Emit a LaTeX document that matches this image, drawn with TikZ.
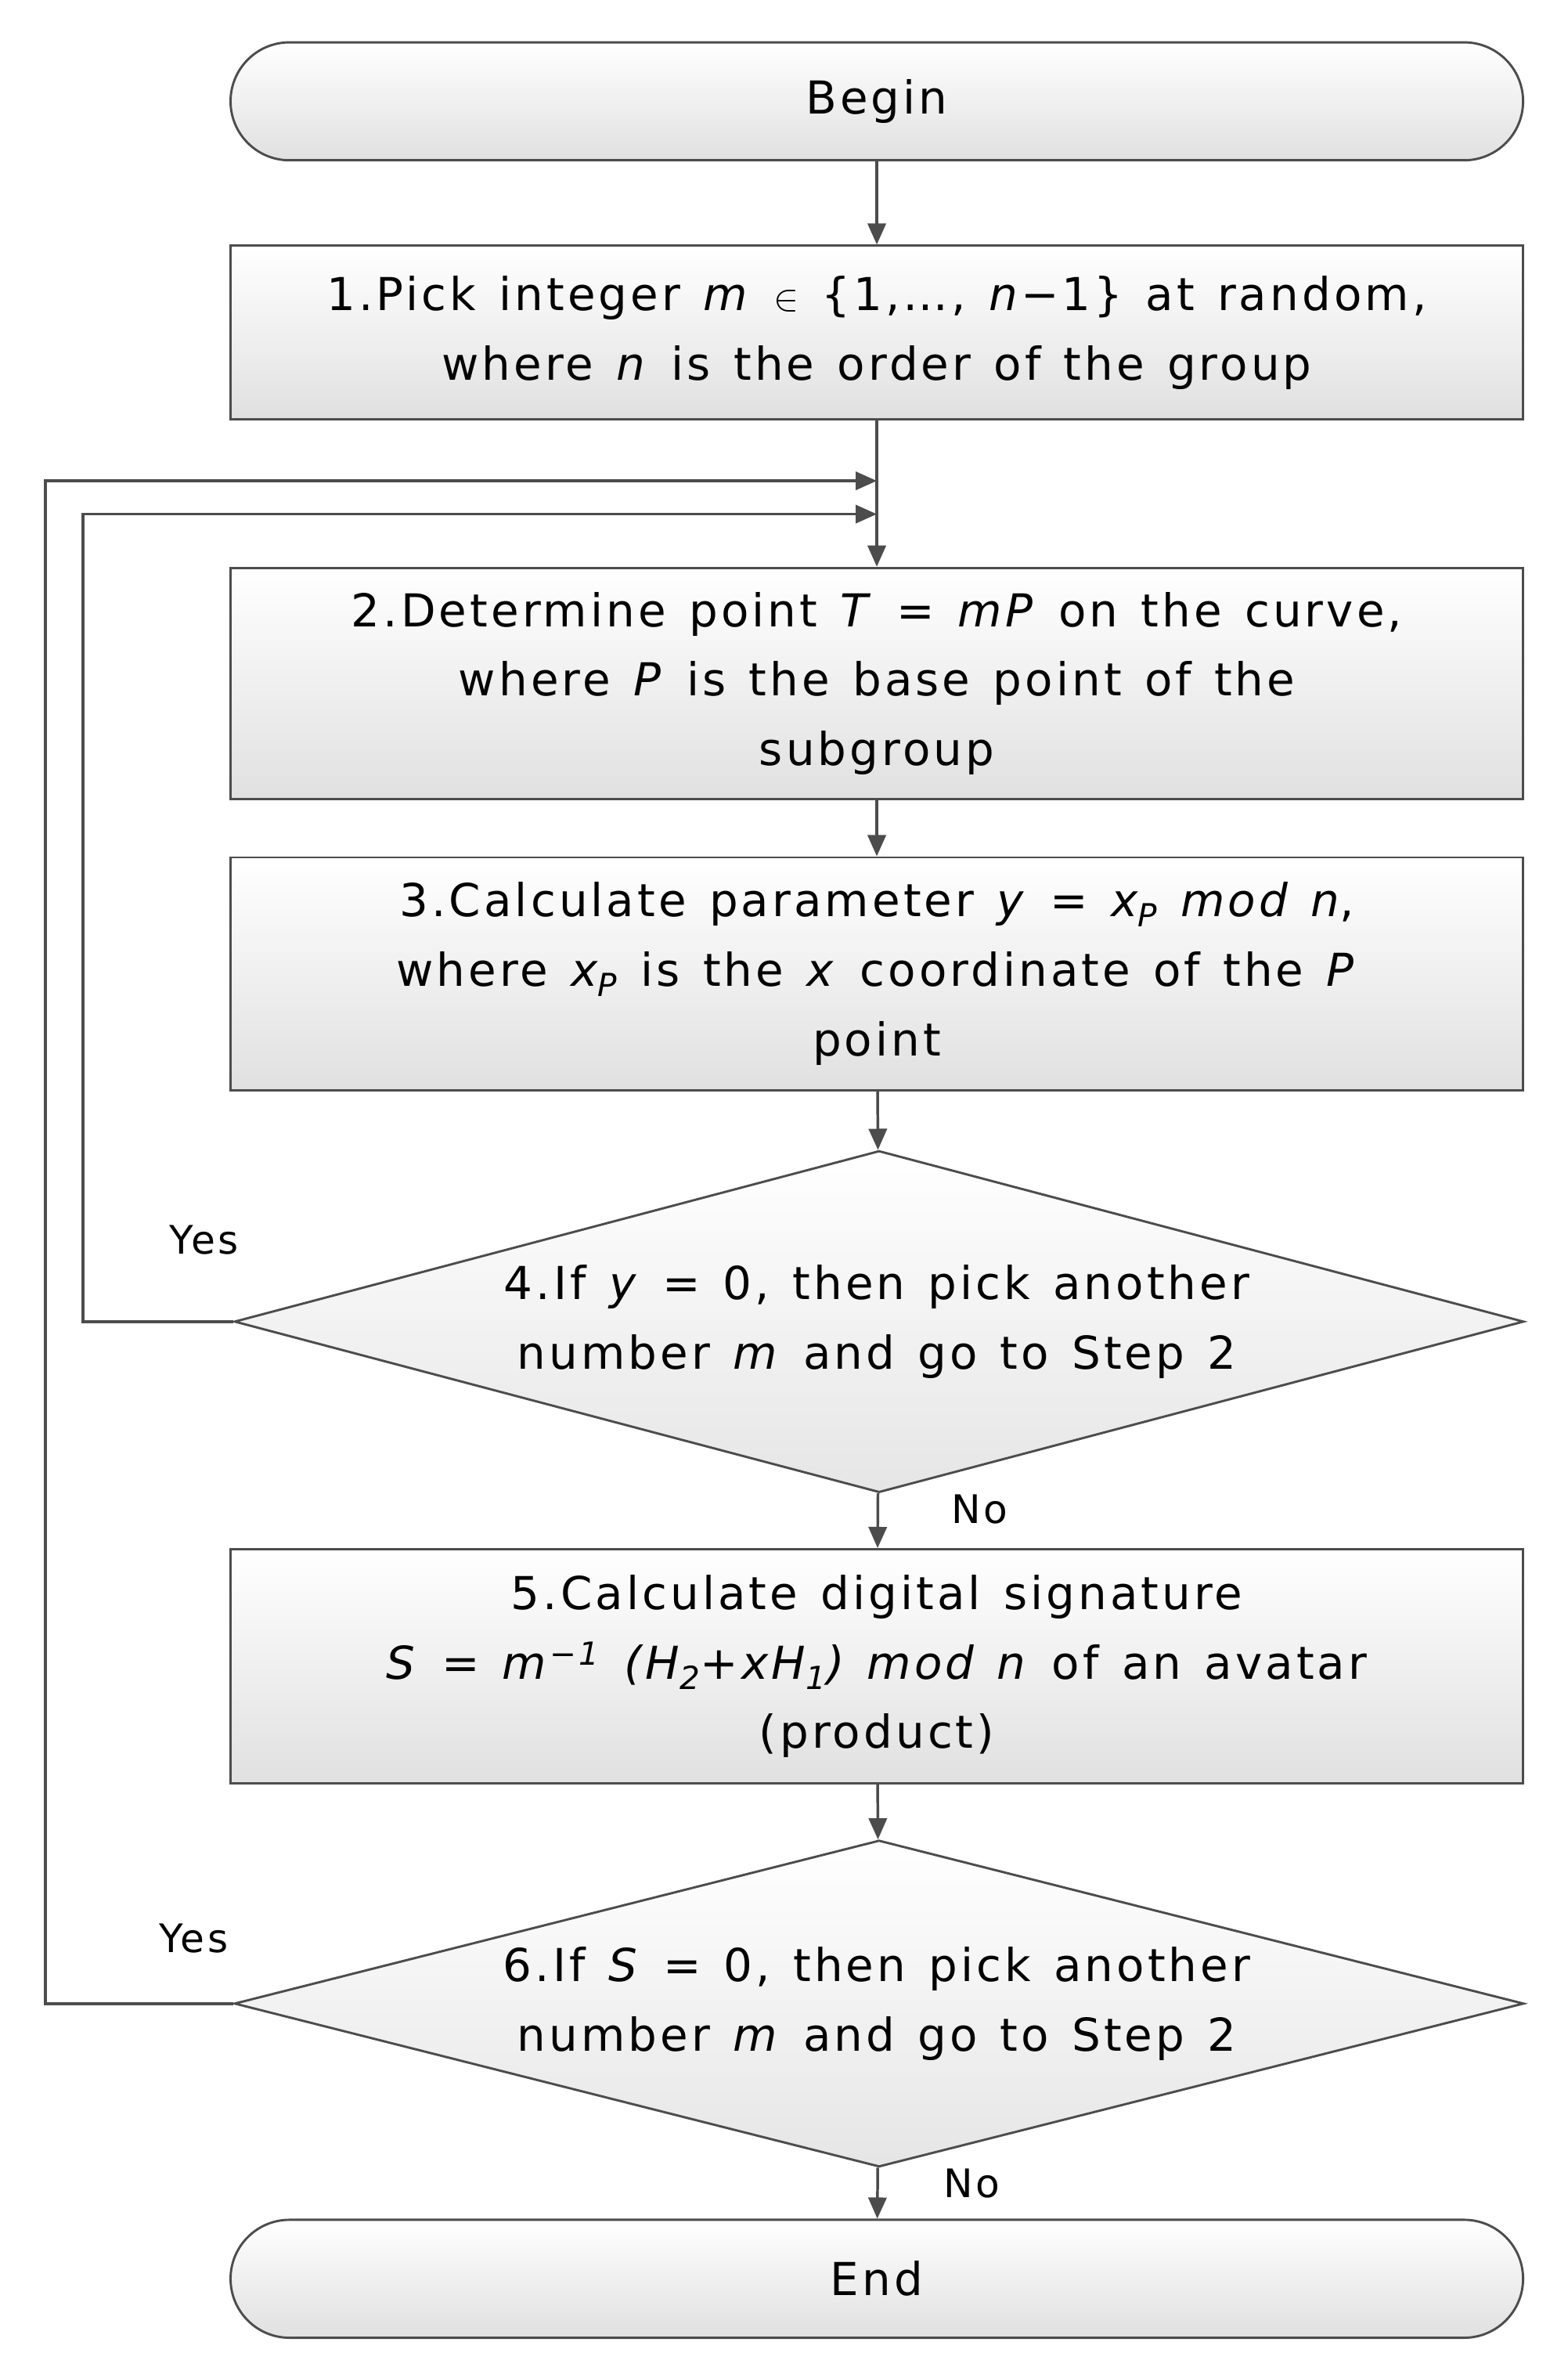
\documentclass[tikz,border=0pt]{standalone}
\usepackage{fontspec}
\setmainfont{DejaVu Sans}[LetterSpace=7,WordSpace=1.3]
\usetikzlibrary{shapes.geometric,arrows.meta}
\begin{document}
\begin{tikzpicture}[x=1pt,y=-1pt,
  box/.style={draw=black!70,line width=1.5pt,top color=white,bottom color=black!12,minimum width=855pt,align=center,font=\fontsize{30}{46}\selectfont},
  term/.style={box,rounded corners=39pt,minimum height=78pt},
  dia/.style={draw=black!70,line width=1.5pt,top color=white,bottom color=black!10,diamond,aspect=3.8,inner sep=0pt,align=center,font=\fontsize{30}{46}\selectfont},
  arr/.style={draw=black!70,line width=1.8pt,-{Triangle[length=14pt,width=12pt]}},
  lbl/.style={font=\fontsize{26}{30}\selectfont}]
\useasboundingbox (0,0) rectangle (1037,1568);
\node[term] (b) at (580,67) {Begin};
\node[box,minimum height=115pt] (s1) at (580,220) {1.Pick integer \textit{m} $\in$ \{1,…, \textit{n}−1\} at random,\\ where \textit{n} is the order of the group};
\node[box,minimum height=153pt] (s2) at (580,452) {2.Determine point \textit{T} = \textit{mP} on the curve,\\ where \textit{P} is the base point of the\\ subgroup};
\node[box,minimum height=154pt] (s3) at (580,644) {3.Calculate parameter \textit{y} = \textit{x\textsubscript{P} mod n},\\ where \textit{x\textsubscript{P}} is the \textit{x} coordinate of the \textit{P}\\ point};
\node[dia,minimum width=853pt,minimum height=226pt] (d4) at (581.5,874) {};
\node at (580,874) [align=center,font=\fontsize{30}{46}\selectfont] {4.If \textit{y} = 0, then pick another\\ number \textit{m} and go to Step 2};
\node[box,minimum height=155pt] (s5) at (580,1102) {5.Calculate digital signature\\ \textit{S} = \textit{m}\textsuperscript{\textit{−1}} \textit{(H\textsubscript{2}+xH\textsubscript{1}) mod n} of an avatar\\ (product)};
\node[dia,minimum width=853pt,minimum height=216pt] (d6) at (581.5,1325) {};
\node at (580,1325) [align=center,font=\fontsize{30}{46}\selectfont] {6.If \textit{S} = 0, then pick another\\ number \textit{m} and go to Step 2};
\node[term] (e) at (580,1507) {End};
\coordinate (j1) at (580,318);
\coordinate (j2) at (580,340);
\draw[arr] (b) -- (s1);
\draw[arr] (s1) -- (s2);
\draw[arr] (s2) -- (s3);
\draw[arr] (s3) -- (d4);
\draw[arr] (d4) -- (s5);
\draw[arr] (s5) -- (d6);
\draw[arr] (d6) -- (e);
\draw[arr] (d4.west) -- (55,874) -- (55,340) -- (j2);
\draw[arr] (d6.west) -- (30,1325) -- (30,318) -- (j1);
\node[lbl] (y1) at (135,820) {Yes};
\node[lbl] (y2) at (128,1282) {Yes};
\node[lbl] (n1) at (648,998) {No};
\node[lbl] (n2) at (643,1444) {No};
\end{tikzpicture}
\end{document}
